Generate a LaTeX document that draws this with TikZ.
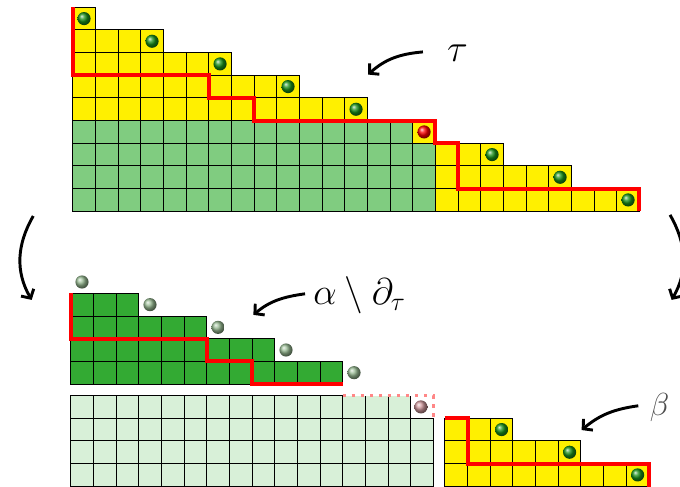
\documentclass[tikz,border=0pt]{standalone}
\usepackage{fix-cm}
\usepackage{amsmath,amssymb}
\usetikzlibrary{arrows.meta}

\definecolor{yel}{RGB}{255,240,0}
\definecolor{grn}{RGB}{128,204,128}
\definecolor{dgrn}{RGB}{51,170,51}
\definecolor{lgrn}{RGB}{216,240,216}
\definecolor{pnk}{RGB}{255,135,135}
\definecolor{bgrn}{RGB}{25,145,25}
\definecolor{ghost}{RGB}{150,185,145}
\definecolor{pghost}{RGB}{205,150,155}

\begin{document}
\begin{tikzpicture}[
  x=0.6cm, y=0.6cm,
  cell/.style={draw=black, line width=0.7pt},
  redline/.style={draw=red, line width=3pt},
  pdots/.style={draw=pnk, line width=2.5pt, dash pattern=on 2.5pt off 4.3pt},
  arr/.style={line width=2.2pt, -{Straight Barb[length=5pt, width=11pt]}},
  lbl/.style={inner sep=0pt}
]
\useasboundingbox (-3.207,-12.12) rectangle (26.79,9.32);

\foreach \r in {0,...,8} {
  \pgfmathtruncatemacro{\w}{25-3*\r}
  \pgfmathtruncatemacro{\gw}{\r<3 ? 16 : (\r==3 ? 15 : 0)}
  \foreach \c in {1,...,\w} {
    \ifnum\c>\gw \def\cf{yel}\else\def\cf{grn}\fi
    \draw[cell, fill=\cf] (\c-1,\r) rectangle (\c,\r+1);
  }
}
\draw[redline] (0,9) -- (0,6) -- (6,6) -- (6,5) -- (8,5) -- (8,4) -- (16,4)
  -- (16,3) -- (17,3) -- (17,1) -- (25,1) -- (25,0);
\foreach \r in {0,1,2,4,5,6,7,8}
  \shade[ball color=bgrn] ({25-3*\r-0.5},\r+0.5) circle (0.29);
\shade[ball color=red] (15.5,3.5) circle (0.29);

\begin{scope}[shift={(-0.09,-7.62)}]
  \foreach \r in {0,...,3} {
    \pgfmathtruncatemacro{\w}{12-3*\r}
    \foreach \c in {1,...,\w}
      \draw[cell, fill=dgrn] (\c-1,\r) rectangle (\c,\r+1);
  }
  \draw[redline] (0,4) -- (0,2) -- (6,2) -- (6,1) -- (8,1) -- (8,0) -- (12,0);
  \foreach \r in {0,...,4}
    \shade[ball color=ghost] ({12-3*\r+0.5},\r+0.5) circle (0.29);
\end{scope}

\begin{scope}[shift={(-0.09,-12.13)}]
  \foreach \r in {0,...,3} {
    \pgfmathtruncatemacro{\w}{\r==3 ? 15 : 16}
    \foreach \c in {1,...,\w}
      \draw[cell, fill=lgrn] (\c-1,\r) rectangle (\c,\r+1);
  }
  \draw[white, line width=1.2pt] (12,4) -- (15,4);
  \draw[pdots] (12,4) -- (16,4) -- (16,3);
  \shade[ball color=pghost] (15.45,3.5) circle (0.29);
\end{scope}

\begin{scope}[shift={(16.42,-12.13)}]
  \foreach \r in {0,...,2} {
    \pgfmathtruncatemacro{\w}{9-3*\r}
    \foreach \c in {1,...,\w}
      \draw[cell, fill=yel] (\c-1,\r) rectangle (\c,\r+1);
  }
  \draw[redline] (0,3) -- (1,3) -- (1,1) -- (9,1) -- (9,-0.2);
  \foreach \r in {0,...,2}
    \shade[ball color=bgrn] ({9-3*\r-0.5},\r+0.5) circle (0.29);
\end{scope}

\node[lbl, anchor=base west] (tau) at (16.5,6.6)
  {\fontsize{29}{30}\selectfont$\tau$};
\node[lbl, anchor=base west] (cut) at (10.6,-4.13)
  {\fontsize{28}{30}\selectfont$\alpha\setminus\partial_\tau$};
\node[lbl, anchor=base west, text=black!70] (beta) at (25.45,-9.0)
  {\fontsize{24}{26}\selectfont$\beta$};

\coordinate (tauS) at (15.45,7.03);
\coordinate (tauE) at (13.03,6.03);
\coordinate (cutS) at (10.25,-3.64);
\coordinate (cutE) at (7.97,-4.57);
\coordinate (betaS) at (24.95,-8.58);
\coordinate (betaE) at (22.45,-9.65);
\draw[arr] (tauS) to[out=185, in=42] (tauE);
\draw[arr] (cutS) to[out=188, in=40] (cutE);
\draw[arr] (betaS) to[out=188, in=40] (betaE);

\coordinate (leftS) at (-1.74,-0.21);
\coordinate (leftE) at (-1.81,-3.91);
\coordinate (rightS) at (26.35,-0.16);
\coordinate (rightE) at (26.42,-3.91);
\draw[arr] (leftS) to[out=240, in=120] (leftE);
\draw[arr] (rightS) to[out=300, in=60] (rightE);

\end{tikzpicture}
\end{document}
